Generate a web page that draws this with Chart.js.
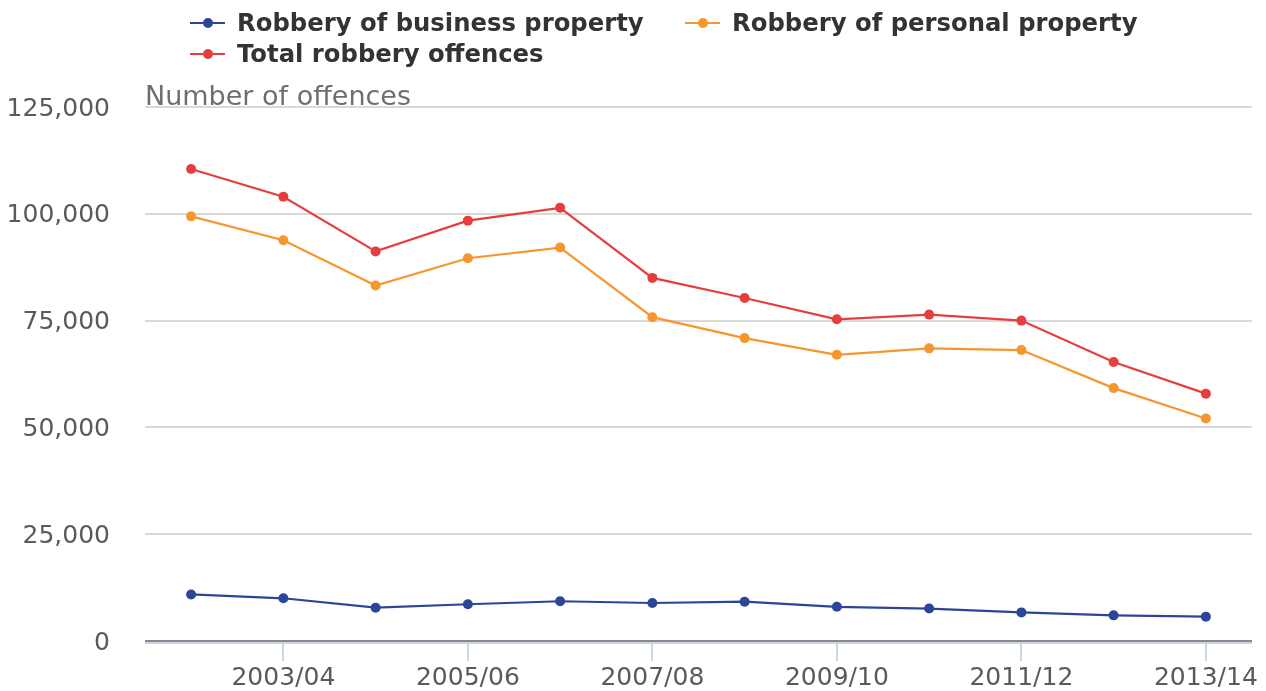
<!DOCTYPE html>
<html lang="en">
<head>
    <meta charset="UTF-8">
    <title>Robbery offences</title>
    <script src="https://cdn.jsdelivr.net/npm/chart.js@4.4.0/dist/chart.umd.min.js"></script>
    <style>
        body { margin: 0; background: #fff; font-family: "DejaVu Sans", sans-serif; }
        #wrap { position: relative; width: 1266px; height: 691px; }
        #legend {
            position: absolute; left: 190px; top: 7px;
            display: grid; grid-template-columns: 495px auto;
            font-weight: bold; font-size: 24.3px; line-height: 31px; color: #333;
        }
        .item { display: flex; align-items: center; white-space: nowrap; }
        .mark { position: relative; width: 35px; height: 2px; margin-right: 12px; }
        .mark span { position: absolute; left: 13px; top: -4px; width: 10px; height: 10px; border-radius: 50%; }
    </style>
</head>
<body>
<div id="wrap">
    <canvas id="chartCanvas" width="1266" height="691"></canvas>
    <div id="legend"></div>
</div>

<script>
    // data
    const years = ['2002/03', '2003/04', '2004/05', '2005/06', '2006/07', '2007/08',
                   '2008/09', '2009/10', '2010/11', '2011/12', '2012/13', '2013/14'];
    const business = [10900, 10000, 7800, 8600, 9300, 8900, 9200, 8000, 7600, 6700, 6000, 5700];
    const personal = [99400, 93800, 83200, 89600, 92100, 75800, 70900, 67000, 68500, 68100, 59200, 52100];
    const total = [110500, 104000, 91200, 98400, 101400, 85000, 80300, 75300, 76400, 75000, 65300, 57900];
    const yTicks = [0, 25000, 50000, 75000, 100000, 125000];

    const blue = '#2b4699';
    const orange = '#f5962e';
    const red = '#e63e3f';

    function series(label, data, color) {
        return {
            label: label,
            data: data,
            borderColor: color,
            backgroundColor: color,
            borderWidth: 2.2,
            pointRadius: 5,
            pointBorderWidth: 0,
            tension: 0
        };
    }

    const datasets = [
        series('Robbery of business property', business, blue),
        series('Robbery of personal property', personal, orange),
        series('Total robbery offences', total, red)
    ];

    // html legend
    const legend = document.getElementById('legend');
    for (const ds of datasets) {
        const item = document.createElement('div');
        item.className = 'item';
        item.innerHTML = '<div class="mark" style="background:' + ds.borderColor + '"><span style="background:' +
            ds.borderColor + '"></span></div>' + ds.label;
        legend.appendChild(item);
    }

    // axis title above the plot + zero line with blue strip under it
    const extras = {
        id: 'extras',
        beforeDatasetsDraw(chart) {
            const c = chart.ctx, a = chart.chartArea;
            c.save();
            c.fillStyle = '#c8d6e5';
            c.fillRect(a.left, a.bottom + 1, a.right - a.left, 2);
            c.fillStyle = '#8a8a8a';
            c.fillRect(a.left, a.bottom - 1, a.right - a.left, 2);
            c.font = '27px "DejaVu Sans"';
            c.fillStyle = '#6e6e6e';
            c.textBaseline = 'alphabetic';
            c.fillText('Number of offences', a.left, a.top - 2);
            c.restore();
        }
    };

    const ctx = document.getElementById('chartCanvas').getContext('2d');
    const myChart = new Chart(ctx, {
        type: 'line',
        data: { labels: years, datasets: datasets },
        options: {
            responsive: false,
            animation: false,
            layout: { padding: { top: 107, left: 8, right: 14, bottom: 0 } },
            plugins: { legend: { display: false }, tooltip: { enabled: false } },
            scales: {
                x: {
                    offset: true,
                    afterFit: function(s) { s.height = 46; },
                    border: { display: false },
                    grid: { drawOnChartArea: false, drawTicks: true, tickLength: 20, color: '#c8d6e5', lineWidth: 2 },
                    ticks: {
                        autoSkip: false, maxRotation: 0, padding: 4,
                        color: '#5a5a5a', font: { family: 'DejaVu Sans', size: 25, lineHeight: 1.1 },
                        callback: function(v, i) { return i % 2 === 1 ? years[i] : null; }
                    }
                },
                y: {
                    min: 0, max: 125000,
                    afterBuildTicks: function(s) { s.ticks = yTicks.map(v => ({ value: v })); },
                    afterFit: function(s) { s.width = 137; },
                    border: { display: false },
                    grid: { drawTicks: false, color: '#d9d9d9', lineWidth: 2 },
                    ticks: {
                        padding: 35, labelOffset: 2, color: '#5a5a5a', font: { family: 'DejaVu Sans', size: 25 },
                        callback: function(v) { return v.toLocaleString('en-US'); }
                    }
                }
            }
        },
        plugins: [extras]
    });
</script>
</body>
</html>
